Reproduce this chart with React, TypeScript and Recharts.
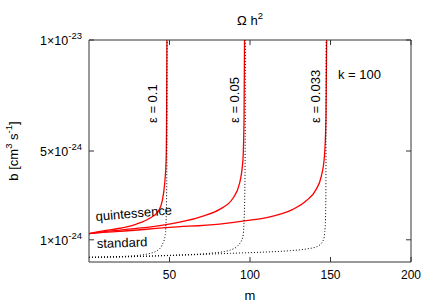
import React from "react";
import { LineChart, Line, XAxis, YAxis } from "recharts";

// values of b in units of 1e-24 cm^3 s^-1
const quint01 = [
  { m: 0, b: 1.28 }, { m: 8.8, b: 1.4 }, { m: 19.1, b: 1.52 }, { m: 29.5, b: 1.71 },
  { m: 37.7, b: 1.97 }, { m: 42.9, b: 2.27 }, { m: 45.6, b: 2.79 }, { m: 47.0, b: 3.54 },
  { m: 47.9, b: 4.59 }, { m: 48.2, b: 6.5 }, { m: 48.4, b: 10 },
];
const quint005 = [
  { m: 0, b: 1.28 }, { m: 8.8, b: 1.36 }, { m: 19.1, b: 1.44 }, { m: 39.8, b: 1.59 },
  { m: 60.5, b: 1.86 }, { m: 70.8, b: 2.07 }, { m: 81.1, b: 2.37 }, { m: 89.4, b: 2.87 },
  { m: 93.5, b: 3.54 }, { m: 95.6, b: 4.59 }, { m: 96.3, b: 6.5 }, { m: 96.6, b: 10 },
];
const quint0033 = [
  { m: 0, b: 1.28 }, { m: 8.8, b: 1.33 }, { m: 19.1, b: 1.38 }, { m: 50.1, b: 1.56 },
  { m: 81.1, b: 1.71 }, { m: 97.7, b: 1.86 }, { m: 114.2, b: 2.07 }, { m: 126.6, b: 2.37 },
  { m: 134.9, b: 2.76 }, { m: 141.1, b: 3.27 }, { m: 144.2, b: 3.84 }, { m: 146.2, b: 4.74 },
  { m: 147.2, b: 6.5 }, { m: 147.6, b: 10 },
];
const std01 = [
  { m: 0, b: 0.21 }, { m: 12, b: 0.23 }, { m: 25.7, b: 0.27 }, { m: 36.1, b: 0.36 },
  { m: 42.3, b: 0.51 }, { m: 45.4, b: 0.77 }, { m: 47.4, b: 1.22 }, { m: 48.1, b: 2.5 },
  { m: 48.4, b: 5 }, { m: 48.5, b: 10 },
];
const std005 = [
  { m: 0, b: 0.21 }, { m: 25, b: 0.24 }, { m: 46.4, b: 0.29 }, { m: 77.4, b: 0.41 },
  { m: 87.8, b: 0.54 }, { m: 92.9, b: 0.77 }, { m: 95.6, b: 1.14 }, { m: 96.6, b: 2.5 },
  { m: 97.0, b: 5 }, { m: 97.1, b: 10 },
];
const std0033 = [
  { m: 0, b: 0.21 }, { m: 25, b: 0.24 }, { m: 50, b: 0.29 }, { m: 87.8, b: 0.39 },
  { m: 110, b: 0.45 }, { m: 125, b: 0.51 }, { m: 135.3, b: 0.59 }, { m: 141.5, b: 0.69 },
  { m: 145.6, b: 0.99 }, { m: 146.7, b: 1.59 }, { m: 147.1, b: 2.79 }, { m: 147.3, b: 10 },
];

const xTicks = [50, 100, 150, 200];
const yTicks = [1, 5, 10];
const yTickLabels: Record<number, { mant: string; exp: string }> = {
  1: { mant: "1", exp: "-24" },
  5: { mant: "5", exp: "-24" },
  10: { mant: "1", exp: "-23" },
};

const FONT = "'Liberation Sans', Arial, Helvetica, sans-serif";
const AXIS = "#333";

const BottomTick = (p: any) => (
  <g>
    <line x1={p.x} y1={p.y} x2={p.x} y2={p.y - 5} stroke={AXIS} />
    <text x={p.x} y={p.y + 17} textAnchor="middle" fontSize={12} fontFamily={FONT} fill="#000">
      {p.payload.value}
    </text>
  </g>
);
const TopTick = (p: any) => (
  <line x1={p.x} y1={p.y} x2={p.x} y2={p.y + 5} stroke={AXIS} />
);
const LeftTick = (p: any) => {
  const lab = yTickLabels[p.payload.value];
  return (
    <g>
      <line x1={p.x} y1={p.y} x2={p.x + 5} y2={p.y} stroke={AXIS} />
      <text x={p.x - 7} y={p.y + 5} textAnchor="end" fontSize={12.5} fontFamily={FONT} fill="#000">
        {lab ? lab.mant + "×10" : ""}
        <tspan dy={-6} fontSize={9.5}>{lab ? lab.exp : ""}</tspan>
      </text>
    </g>
  );
};
const RightTick = (p: any) => (
  <line x1={p.x} y1={p.y} x2={p.x - 5} y2={p.y} stroke={AXIS} />
);

export default function App() {
  const t = { fontFamily: FONT, fill: "#000" } as const;
  return (
    <div style={{ position: "absolute", left: 0, top: 0, width: 436, height: 305, background: "#fff" }}>
      <LineChart width={436} height={305} margin={{ top: 0, right: 0, bottom: 0, left: 0 }}>
        <XAxis
          xAxisId="b" type="number" dataKey="m" domain={[0, 200]} ticks={xTicks} interval={0}
          height={43} tickSize={0} tickMargin={0} tickLine={false} tick={<BottomTick />}
          axisLine={{ stroke: AXIS }} allowDataOverflow
        />
        <XAxis
          xAxisId="t" orientation="top" type="number" dataKey="m" domain={[0, 200]} ticks={xTicks}
          interval={0} height={40} tickSize={0} tickMargin={0} tickLine={false} tick={<TopTick />}
          axisLine={{ stroke: AXIS }} allowDataOverflow
        />
        <YAxis
          yAxisId="l" type="number" domain={[0, 10]} ticks={yTicks} interval={0} width={89}
          tickSize={0} tickMargin={0} tickLine={false} tick={<LeftTick />} axisLine={{ stroke: AXIS }}
          allowDataOverflow
        />
        <YAxis
          yAxisId="r" orientation="right" type="number" domain={[0, 10]} ticks={yTicks} interval={0}
          width={25} tickSize={0} tickMargin={0} tickLine={false} tick={<RightTick />}
          axisLine={{ stroke: AXIS }} allowDataOverflow
        />
        {[quint01, quint005, quint0033].map((d, i) => (
          <Line
            key={"q" + i} xAxisId="b" yAxisId="l" data={d} dataKey="b" type="monotone"
            stroke="#ff0000" strokeWidth={1.3} dot={false} isAnimationActive={false}
          />
        ))}
        {[std01, std005, std0033].map((d, i) => (
          <Line
            key={"s" + i} xAxisId="b" yAxisId="l" data={d} dataKey="b" type="monotone"
            stroke="#000" strokeWidth={1} strokeDasharray="1 2" dot={false} isAnimationActive={false}
          />
        ))}
      </LineChart>
      <svg width={436} height={305} style={{ position: "absolute", left: 0, top: 0, pointerEvents: "none" }}>
        <text x={250} y={25} textAnchor="middle" fontSize={13} {...t}>
          Ω h<tspan dy={-6} fontSize={9.5}>2</tspan>
        </text>
        <text x={250} y={300} textAnchor="middle" fontSize={13} {...t}>m</text>
        <text transform="translate(18,151) rotate(-90)" textAnchor="middle" fontSize={13} {...t}>
          b [cm<tspan dy={-6} fontSize={9.5}>3</tspan>
          <tspan dy={6}> s</tspan>
          <tspan dy={-6} fontSize={9.5}>-1</tspan>
          <tspan dy={6}>]</tspan>
        </text>
        <text transform="translate(157,123) rotate(-90)" textAnchor="start" fontSize={13} {...t}>ε = 0.1</text>
        <text transform="translate(239,123) rotate(-90)" textAnchor="start" fontSize={13} {...t}>ε = 0.05</text>
        <text transform="translate(320,123) rotate(-90)" textAnchor="start" fontSize={13} {...t}>ε = 0.033</text>
        <text x={338} y={79} fontSize={13} {...t}>k = 100</text>
        <text transform="translate(96,221) rotate(-5)" fontSize={13} {...t}>quintessence</text>
        <text transform="translate(97,248) rotate(-2)" fontSize={13} {...t}>standard</text>
      </svg>
    </div>
  );
}
